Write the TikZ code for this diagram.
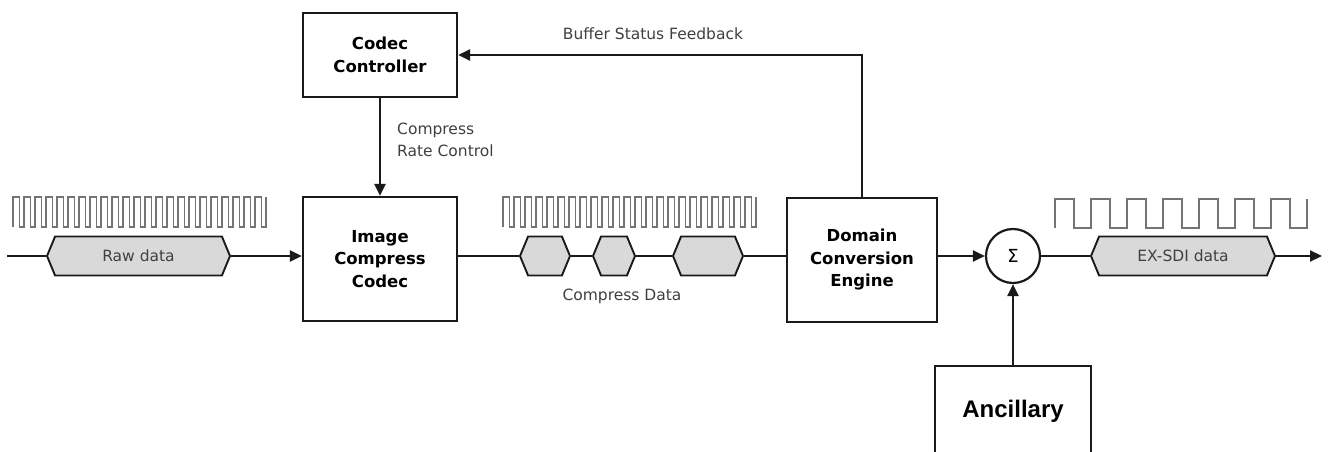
\documentclass[tikz,border=0pt]{standalone}
\usepackage{fontspec}
\setmainfont{DejaVu Sans}
\newfontfamily\ancfont{Liberation Sans}
\usetikzlibrary{shapes.symbols,arrows.meta}
\definecolor{hexfill}{HTML}{D9D9D9}
\definecolor{txtgray}{HTML}{404040}
\definecolor{clkgray}{HTML}{747474}
\definecolor{linedark}{HTML}{1A1A1A}
\begin{document}
\begin{tikzpicture}[x=1pt,y=-1pt,
  blockbox/.style={draw=linedark,line width=2.2pt,minimum width=154pt,minimum height=124pt,
    inner sep=0pt,align=center,font=\fontsize{16.5}{22.5}\selectfont\bfseries},
  hexbox/.style={signal,signal to=east and west,signal pointer angle=135,draw=linedark,
    line width=1.9pt,fill=hexfill,minimum height=39pt,inner sep=0pt,text=txtgray,
    font=\fontsize{15.5}{18}\selectfont},
  conn/.style={line width=2.2pt,draw=linedark},
  arr/.style={conn,-{Triangle[length=12pt,width=11pt]}},
  clk/.style={draw=clkgray,line width=1.5pt,line join=miter},
  lbl/.style={text=txtgray,font=\fontsize{15.5}{22}\selectfont,inner sep=0pt},
]
\clip (0,0) rectangle (1331,452);
\fill[white] (0,0) rectangle (1331,452);

% clocks
\draw[clk] (13,227) foreach \k in {0,...,22} { -- ++(0,-30) -- ++(6.5,0) -- ++(0,30) -- ++(4.5,0) } -- ++(0,-30);
\draw[clk] (503,227) foreach \k in {0,...,22} { -- ++(0,-30) -- ++(6.5,0) -- ++(0,30) -- ++(4.5,0) } -- ++(0,-30);
\draw[clk] (1055,228) foreach \k in {1,...,7} { -- ++(0,-29) -- ++(19,0) -- ++(0,29) -- ++(17,0) } -- ++(0,-29);

% blocks
\node[blockbox,minimum height=84pt] (ctrl) at (380,55) {Codec\\Controller};
\node[blockbox] (icc) at (380,259) {Image\\Compress\\Codec};
\node[blockbox,minimum width=150pt] (dce) at (862,260) {Domain\\Conversion\\Engine};
\node[circle,draw=linedark,line width=2.2pt,minimum size=54pt,inner sep=0pt,
  font=\fontsize{18}{18}\selectfont] (sum) at (1013,256) {Σ};
\node[draw=linedark,line width=2.2pt,minimum width=156pt,minimum height=90pt,inner sep=0pt,
  font=\ancfont\bfseries\fontsize{24}{24}\selectfont] (anc) at (1013,411) {Ancillary};

% data hexagons
\node[hexbox,minimum width=183pt] (raw) at (138.5,256) {Raw data};
\node[hexbox,minimum width=50pt] (h1) at (545,256) {};
\node[hexbox,minimum width=42pt] (h2) at (614,256) {};
\node[hexbox,minimum width=70pt] (h3) at (708,256) {};
\node[hexbox,minimum width=184pt] (ex) at (1183,256) {EX-SDI data};

% labels
\node[lbl,anchor=base] (fbl) at (653,40) {Buffer Status Feedback};
\node[lbl,anchor=west,align=left] (crl) at (397,140) {Compress\\Rate Control};
\node[lbl,anchor=base] (cdl) at (622,300) {Compress Data};

% connectors
\coordinate (in) at (7,256);
\coordinate (out) at (1322,256);
\draw[conn] (in) -- (raw.west);
\draw[arr] (raw.east) -- (raw.east -| icc.west);
\draw[conn] (h1.west -| icc.east) -- (h1.west);
\draw[conn] (h1.east) -- (h2.west);
\draw[conn] (h2.east) -- (h3.west);
\draw[conn] (h3.east) -- (h3.east -| dce.west);
\draw[arr] (sum.west -| dce.east) -- (sum.west);
\draw[conn] (sum.east) -- (ex.west);
\draw[arr] (ex.east) -- (out);
\draw[arr] (ctrl.south) -- (icc.north);
\draw[arr] (dce.north) |- (ctrl.east);
\draw[arr] (anc.north) -- (sum.south);
\end{tikzpicture}
\end{document}
